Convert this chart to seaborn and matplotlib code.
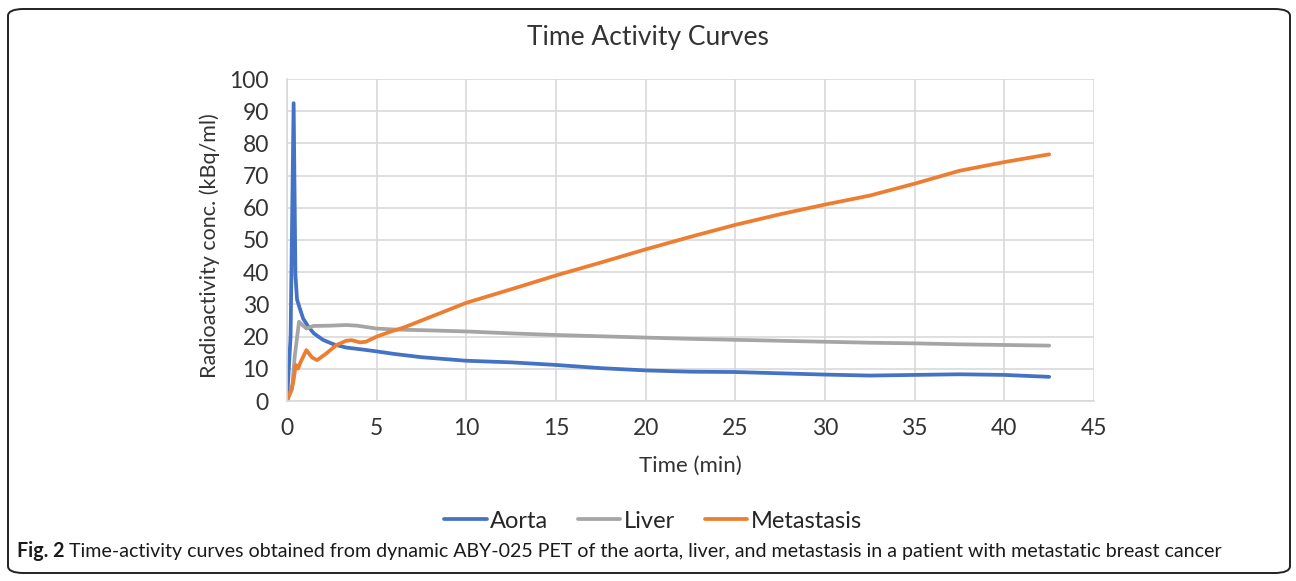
import matplotlib
matplotlib.use("Agg")
import matplotlib.pyplot as plt
from matplotlib.lines import Line2D
from matplotlib.patches import FancyBboxPatch
import seaborn as sns
import pandas as pd

# ---- data ----
aorta_t = [0, 0.2, 0.37, 0.47, 0.56, 0.7, 0.9, 1.2, 1.5, 2.0, 2.6, 3.3, 4.2, 5.0, 6.0,
           7.5, 10, 12.5, 15, 17.5, 20, 22.5, 25, 27.5, 30, 32.5, 35, 37.5, 40, 42.5]
aorta_v = [0, 20, 92.5, 39, 31.5, 29, 25.6, 23, 21, 19, 17.6, 16.6, 16, 15.4, 14.6,
           13.6, 12.5, 12, 11.2, 10.2, 9.5, 9.1, 9.0, 8.6, 8.2, 7.9, 8.1, 8.3, 8.1, 7.5]

liver_t = [0, 0.28, 0.43, 0.67, 1.08, 1.46, 2.4, 3.3, 3.9, 5.0, 6.0, 7.5, 10, 12.5, 15,
           17.5, 20, 22.5, 25, 27.5, 30, 32.5, 35, 37.5, 40, 42.5]
liver_v = [0, 3.6, 13.8, 24.6, 22.5, 23.3, 23.4, 23.6, 23.4, 22.5, 22.2, 22.0, 21.6, 21.0, 20.5,
           20.1, 19.7, 19.3, 19.0, 18.7, 18.4, 18.1, 17.9, 17.6, 17.4, 17.2]

meta_t = [0, 0.19, 0.34, 0.49, 0.62, 0.75, 1.08, 1.4, 1.68, 2.2, 2.76, 3.3, 3.6, 4.07, 4.4,
          5.0, 5.75, 6.5, 7.5, 10, 12.5, 15, 17.5, 20, 22.5, 25, 27.5, 30, 32.5, 35, 37.5, 40, 42.5]
meta_v = [0, 3, 5.5, 11.2, 10.1, 12, 15.8, 13.5, 12.7, 14.8, 17.4, 18.7, 18.9, 18.2, 18.4,
          20, 21.5, 22.8, 25, 30.5, 34.7, 39, 43, 47.1, 51, 54.7, 58, 61, 63.8, 67.5, 71.5, 74.2, 76.6]

series_names = ["Aorta", "Liver", "Metastasis"]
series_colors = ["#4472C4", "#A5A5A5", "#ED7D31"]
x_ticks = [0, 5, 10, 15, 20, 25, 30, 35, 40, 45]
y_ticks = [0, 10, 20, 30, 40, 50, 60, 70, 80, 90, 100]

title = "Time Activity Curves"
x_label = "Time (min)"
y_label = "Radioactivity conc. (kBq/ml)"
caption_bold = "Fig. 2"
caption_text = (" Time-activity curves obtained from dynamic ABY-025 PET of the aorta, liver, "
                "and metastasis in a patient with metastatic breast cancer")

# ---- long-form table ----
frames = []
for name, t, v in zip(series_names, [aorta_t, liver_t, meta_t], [aorta_v, liver_v, meta_v]):
    frames.append(pd.DataFrame({"Time": t, "Value": v, "Series": name}))
df = pd.concat(frames, ignore_index=True)

sns.set_theme(style="white")
plt.rcParams["font.family"] = ["Lato", "DejaVu Sans"]

TXT = "#333333"
W, H = 1296, 581
fig = plt.figure(figsize=(W / 100, H / 100), dpi=100)
ax = fig.add_axes([287 / W, 1 - 401 / H, (1094 - 287) / W, (401 - 79) / H])

sns.lineplot(data=df, x="Time", y="Value", hue="Series", hue_order=series_names,
             palette=dict(zip(series_names, series_colors)), linewidth=2.7,
             sort=False, estimator=None, legend=False, ax=ax)

ax.set_xlim(0, 45)
ax.set_ylim(0, 100)
ax.set_xticks(x_ticks)
ax.set_yticks(y_ticks)
ax.tick_params(axis="both", length=0, labelsize=16.5, colors=TXT)
ax.tick_params(axis="y", pad=13)
ax.tick_params(axis="x", pad=12)
ax.grid(True, color="#D9D9D9", linewidth=1.2)
ax.set_axisbelow(True)
for s in ["top", "right"]:
    ax.spines[s].set_visible(False)
for s in ["left", "bottom"]:
    ax.spines[s].set_color("#D9D9D9")
    ax.spines[s].set_linewidth(1.2)
ax.set_xlabel(x_label, fontsize=16, color=TXT)
ax.set_ylabel(y_label, fontsize=15.5, color=TXT)
ax.xaxis.set_label_coords(0.5, -(466 - 401) / (401 - 79), transform=ax.transAxes)
ax.yaxis.set_label_coords(-(287 - 210) / (1094 - 287), (401 - 246) / (401 - 79), transform=ax.transAxes)
ax.xaxis.label.set_va("center")
ax.yaxis.label.set_va("center")

fig.text(0.5, 1 - 37 / H, title, ha="center", va="center", fontsize=19, color=TXT)

handles = [Line2D([0], [0], color=c, lw=2.7) for c in series_colors]
fig.legend(handles, series_names, loc="center", bbox_to_anchor=(653 / W, 1 - 521 / H),
           ncol=3, frameon=False, fontsize=17, handlelength=1.8, handletextpad=0.15,
           columnspacing=1.25, labelcolor="#262626")

# caption: bold lead-in followed by normal text, sized to span the reference width
cap_fam = ["Lato", "DejaVu Sans"]
cap_y = 1 - 551 / H
cap = fig.text(17 / W, cap_y, caption_bold, ha="left", va="center",
               fontsize=15, fontweight="bold", family=cap_fam, color="#1a1a1a")
rest = fig.text(0, cap_y, caption_text, fontsize=15, family=cap_fam,
                color="#1a1a1a", va="center", ha="left")
fig.canvas.draw()
r = fig.canvas.get_renderer()
total = cap.get_window_extent(r).width + rest.get_window_extent(r).width
size = 15 * (1222 - 17) / total
cap.set_fontsize(size)
rest.set_fontsize(size)
fig.canvas.draw()
bb = cap.get_window_extent(r)
rest.set_position((bb.x1 / W, cap_y))

# rounded border
border = FancyBboxPatch((8 / W, 8 / H), (1290 - 8) / W, (572 - 8) / H,
                        boxstyle="round,pad=0,rounding_size=0.012", transform=fig.transFigure,
                        facecolor="none", edgecolor="#222222", linewidth=1.4)
fig.patches.append(border)

fig.savefig("out.png", dpi=100)
